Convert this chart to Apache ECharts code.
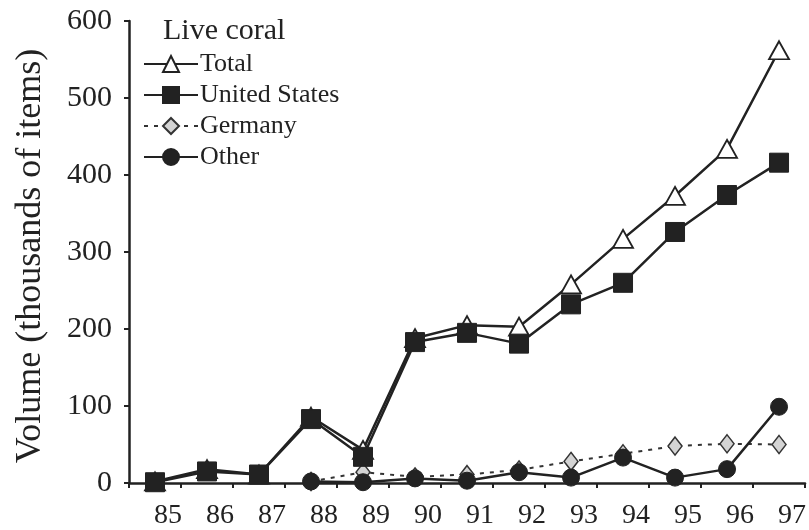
<!DOCTYPE html>
<html><head><meta charset="utf-8">
<script src="https://cdn.jsdelivr.net/npm/echarts@6/dist/echarts.min.js"></script>
<style>html,body{margin:0;padding:0;background:#fff}#c{width:809px;height:530px}</style>
</head><body><div id="c"></div>
<script>
var years = ['85','86','87','88','89','90','91','92','93','94','95','96','97'];
var totalVals = [2, 18, 11, 86, 43, 188, 205, 203, 258, 317, 373, 434, 562];
var usVals = [1, 15, 11, 83, 34, 183, 195, 181, 232, 260, 326, 374, 416];
var germanyVals = [null, null, null, 2, 14, 8, 11, 17, 28, 38, 48, 51, 50];
var otherVals = [null, null, null, 2, 1, 6, 3, 14, 7, 33, 7, 18, 99];
var yTicks = [0, 100, 200, 300, 400, 500, 600];

var serif = 'Liberation Serif';
var chart = echarts.init(document.getElementById('c'));
chart.setOption({
  animation: false,
  backgroundColor: '#fff',
  grid: {left: 129, right: 3, top: 21, bottom: 47, containLabel: false},
  title: {text: 'Live coral', left: 158, top: 11, textStyle: {fontFamily: serif, fontSize: 30, fontWeight: 'normal', color: '#222'}},
  legend: {
    orient: 'vertical', left: 138, top: 46, itemWidth: 54, itemHeight: 20, itemGap: 5,
    textStyle: {fontFamily: serif, fontSize: 26, lineHeight: 25, color: '#222', padding: [0,0,0,-3]},
    data: ['Total', 'United States', 'Germany', 'Other']
  },
  xAxis: {
    type: 'category', data: years, boundaryGap: true,
    axisLine: {lineStyle: {color: '#222', width: 2.5}},
    axisTick: {show: true, length: 5, lineStyle: {color: '#222', width: 2}},
    axisLabel: {fontFamily: serif, fontSize: 28, color: '#222', margin: 19, padding: [0, 0, 0, 26]}
  },
  yAxis: {
    type: 'value', min: yTicks[0], max: yTicks[yTicks.length-1], interval: 100,
    name: 'Volume (thousands of items)', nameLocation: 'middle', nameGap: 80,
    nameTextStyle: {fontFamily: serif, fontSize: 36, color: '#222', padding: [0, 0, 0, -8]},
    axisLine: {show: true, lineStyle: {color: '#222', width: 2.5}},
    axisTick: {show: true, length: 5, lineStyle: {color: '#222', width: 2}},
    splitLine: {show: false},
    axisLabel: {fontFamily: serif, fontSize: 30, color: '#222', margin: 17}
  },
  series: [
    {name: 'Germany', type: 'line', data: germanyVals, z: 2, symbol: 'diamond', symbolSize: [14, 18],
      lineStyle: {color: '#333', width: 2, type: [4, 6]},
      itemStyle: {color: '#d4d4d4', borderColor: '#333', borderWidth: 1.5}},
    {name: 'Other', type: 'line', data: otherVals, z: 3, symbol: 'circle', symbolSize: 17,
      lineStyle: {color: '#222', width: 2.5},
      itemStyle: {color: '#222', borderColor: '#222', borderWidth: 1}},
    {name: 'Total', type: 'line', data: totalVals, z: 4, symbol: 'triangle', symbolSize: [20, 18],
      lineStyle: {color: '#222', width: 2.5},
      itemStyle: {color: '#fff', borderColor: '#222', borderWidth: 1.8}},
    {name: 'United States', type: 'line', data: usVals, z: 5, symbol: 'rect', symbolSize: 19,
      lineStyle: {color: '#222', width: 2.5},
      itemStyle: {color: '#222', borderColor: '#222', borderWidth: 1}}
  ]
});
</script></body></html>
